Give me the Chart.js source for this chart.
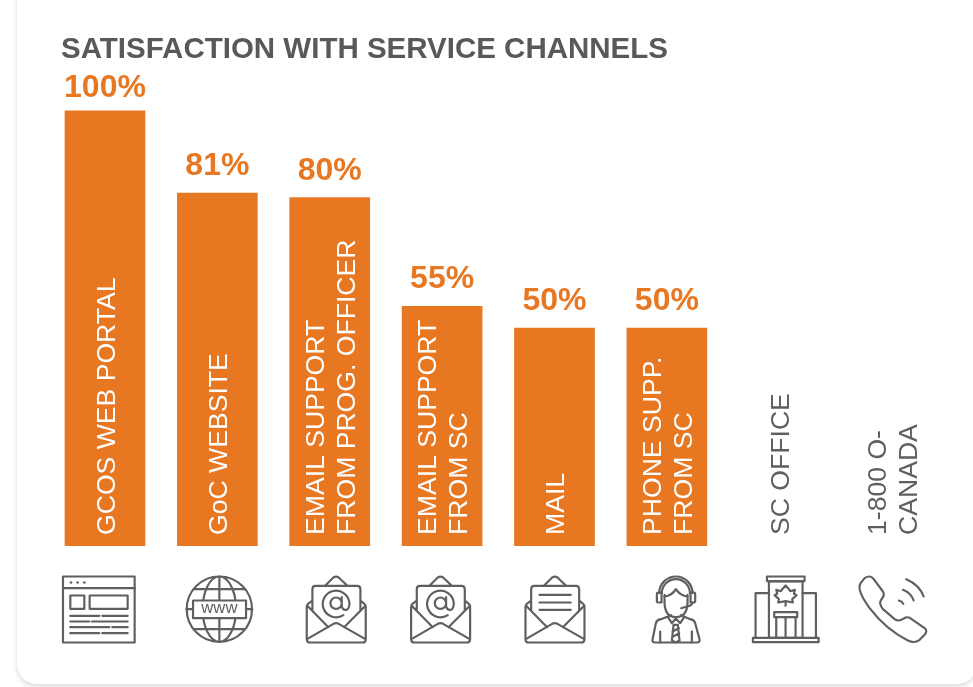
<!DOCTYPE html>
<html>
<head>
<meta charset="utf-8">
<title>Satisfaction with service channels</title>
<script src="https://cdn.jsdelivr.net/npm/chart.js@4"></script>
<style>
    html, body { margin: 0; height: 100%; background: #fff; overflow: hidden; }
    #card {
        position: absolute; left: 17px; top: -30px; width: 960px; height: 714px;
        background: #fff; border-radius: 20px;
        box-shadow: 0 3px 4px rgba(0, 0, 0, 0.12), -2px 0 5px rgba(0, 0, 0, 0.025);
    }
    canvas { position: absolute; left: 0; top: 0; }
</style>
</head>
<body>
<div id="card"></div>
<div style="position:absolute;left:0;top:0;width:973px;height:687px"><canvas id="myChart"></canvas></div>
<script>
const chartTitle = "SATISFACTION WITH SERVICE CHANNELS";
// each category is a list of lines for the rotated label
const categories = [
    ["GCOS WEB PORTAL"],
    ["GoC WEBSITE"],
    ["EMAIL SUPPORT", "FROM PROG. OFFICER"],
    ["EMAIL SUPPORT", "FROM SC"],
    ["MAIL"],
    ["PHONE SUPP.", "FROM SC"],
    ["SC OFFICE"],
    ["1-800 O-", "CANADA"],
];
const satisfaction = [100, 81, 80, 55, 50, 50, null, null];

const ORANGE = "#e87722";
const GREY = "#5f5f5f";
const FONT = '"Liberation Sans", Arial, sans-serif';

// icons are traced in 3x units, origin at the icon's top-left corner
function envelope(ctx) {
    const p = new Path2D("M55 28 L80 3 Q88 -2 96 3 L122 28");
    p.addPath(new Path2D("M17 102 L17 38 Q17 28 27 28 L151 28 Q161 28 161 38 L161 102"));
    p.addPath(new Path2D("M17 72 L4 82 Q0 85 0 92 L0 188 Q0 198 10 198 L167 198 Q177 198 177 188 L177 92 Q177 85 173 82 L161 72"));
    p.addPath(new Path2D("M1 87 L65 152 M177 87 L112 152"));
    p.addPath(new Path2D("M1 188 L80 142 Q88 138 96 142 L176 188"));
    ctx.stroke(p);
}
function atSign(ctx) {
    ctx.stroke(new Path2D("M105 62 L105 90 Q108 102 120 100 Q128 95 128 80 A40 40 0 1 0 110 116 M105 80 A17 17 0 1 1 71 80 A17 17 0 1 1 105 80"));
}
function drawBrowser(ctx) {
    ctx.strokeRect(0, 0, 215, 198);
    ctx.stroke(new Path2D("M0 35 H215 M22 118 H109 M118 118 H194 M22 135 H79 M87 135 H194 M22 152 H139 M148 152 H194 M22 170 H109 M118 170 H194"));
    ctx.strokeRect(22, 57, 42, 40);
    ctx.strokeRect(80, 57, 114, 40);
    [24, 44, 64].forEach(function (x) {
        ctx.beginPath();
        ctx.arc(x, 18, 4, 0, Math.PI * 2);
        ctx.fill();
    });
}
function drawGlobe(ctx) {
    ctx.beginPath();
    ctx.arc(99, 98, 98, 0, Math.PI * 2);
    ctx.moveTo(149, 98);
    ctx.ellipse(99, 98, 50, 98, 0, 0, Math.PI * 2);
    ctx.stroke();
    ctx.stroke(new Path2D("M99 0 V196 M22 38 H176 M22 158 H176 M0 98 H198"));
    ctx.fillStyle = "#fff";
    ctx.fillRect(20, 72, 159, 53);
    ctx.strokeRect(20, 72, 159, 53);
    ctx.fillStyle = GREY;
    ctx.font = "50px " + FONT;
    ctx.textAlign = "center";
    ctx.textBaseline = "alphabetic";
    ctx.fillText("www", 99, 110);
}
function drawEmail(ctx) {
    envelope(ctx);
    atSign(ctx);
}
function drawLetter(ctx) {
    envelope(ctx);
    ctx.stroke(new Path2D("M42 55 H136 M42 78 H136 M42 100 H136"));
}
function drawAgent(ctx) {
    ctx.stroke(new Path2D("M38 55 L38 80 Q40 122 72 122 Q105 122 107 80 L107 55"));
    ctx.stroke(new Path2D("M38 60 Q60 58 72 38 Q85 58 107 60"));
    ctx.stroke(new Path2D("M22 50 A50 50 0 0 1 122 50 M30 50 A42 42 0 0 1 114 50"));
    ctx.stroke(new Path2D("M19 48 H29 V78 H19 Q15 78 15 74 V52 Q15 48 19 48 Z M116 48 H126 Q130 48 130 52 V74 Q130 78 126 78 H116 Z"));
    ctx.stroke(new Path2D("M122 78 Q120 88 105 90 L88 95"));
    ctx.stroke(new Path2D("M2 190 Q0 198 10 198 L135 198 Q145 198 143 188 L130 140 Q127 130 115 128 L87 116 M58 116 L27 128 Q15 130 12 140 L2 190"));
    ctx.stroke(new Path2D("M48 122 L60 140 L72 126 L85 140 L97 122 M65 145 L60 192 L72 198 L83 192 L78 145 Z M62 165 L81 155 M61 182 L82 170 M25 165 V198 M120 165 V198"));
}
function drawOffice(ctx) {
    ctx.strokeRect(2, 184, 197, 13);
    ctx.strokeRect(50, 15, 101, 169);
    ctx.strokeRect(44, 0, 113, 14);
    ctx.stroke(new Path2D("M50 50 H10 V184 M151 50 H191 V184"));
    ctx.strokeRect(66, 107, 69, 15);
    ctx.stroke(new Path2D("M72 122 V184 M100 122 V184 M130 122 V184"));
    ctx.stroke(new Path2D("M100 88 V74 L78 78 L80 68 L67 56 L75 52 L72 40 L86 44 L90 38 L100 27 L110 38 L114 44 L128 40 L125 52 L133 56 L120 68 L122 78 L100 74"));
}
function drawPhone(ctx) {
    ctx.stroke(new Path2D("M15 5 Q30 -5 40 5 L70 45 Q76 55 68 65 L62 75 Q60 85 70 98 L105 128 Q115 135 125 130 L138 123 Q148 120 156 128 L195 155 Q205 162 195 175 L180 190 Q165 202 145 192 Q80 160 30 95 Q-10 40 3 20 Z"));
    ctx.stroke(new Path2D("M118 72 Q128 75 131 82 M130 40 Q155 50 162 72 M140 8 Q180 25 192 60"));
}

const icons = [drawBrowser, drawGlobe, drawEmail, drawEmail, drawLetter, drawAgent, drawOffice, drawPhone];
// where each icon's left edge sits relative to its category centre
const iconShift = [-42, -31, -23, -31, -29, -15, -27, -32];
const valueLift = [13, 18, 18, 18, 18, 18];

const annotate = {
    id: "annotate",
    afterDatasetsDraw(chart) {
        const ctx = chart.ctx;
        const x = chart.scales.x;
        const y = chart.scales.y;

        ctx.save();
        ctx.textBaseline = "alphabetic";
        ctx.textAlign = "left";
        ctx.fillStyle = "#595959";
        ctx.font = "bold 29.5px " + FONT;
        ctx.fillText(chartTitle, 61, 58);

        categories.forEach(function (lines, i) {
            const cx = x.getPixelForValue(i);
            const value = satisfaction[i];
            if (value !== null) {
                ctx.textAlign = "center";
                ctx.fillStyle = ORANGE;
                ctx.font = "bold 32px " + FONT;
                ctx.fillText(value + "%", cx, y.getPixelForValue(value) - valueLift[i]);
            }

            // rotated labels read bottom to top and start just above the base
            ctx.save();
            ctx.translate(cx, y.getPixelForValue(0) - 11);
            ctx.rotate(-Math.PI / 2);
            ctx.textAlign = "left";
            ctx.textBaseline = "middle";
            ctx.fillStyle = value !== null ? "#fff" : GREY;
            ctx.font = "26.6px " + FONT;
            const gap = 31;
            lines.forEach(function (line, n) {
                ctx.fillText(line, 0, (n - (lines.length - 1) / 2) * gap + 2.5);
            });
            ctx.restore();

            ctx.save();
            ctx.translate(cx + iconShift[i], 576.5);
            ctx.scale(1 / 3, 1 / 3);
            ctx.strokeStyle = GREY;
            ctx.fillStyle = GREY;
            ctx.lineWidth = 6.5;
            ctx.lineJoin = "round";
            ctx.lineCap = "round";
            icons[i](ctx);
            ctx.restore();
        });
        ctx.restore();
    },
};

document.addEventListener("DOMContentLoaded", function () {
    const ctx = document.getElementById("myChart");

    new Chart(ctx, {
        type: "bar",
        data: {
            labels: categories,
            datasets: [
                {
                    label: "Satisfaction (%)",
                    data: satisfaction,
                    backgroundColor: ORANGE,
                    barThickness: 80,
                },
            ],
        },
        options: {
            responsive: true,
            maintainAspectRatio: false,
            animation: false,
            layout: { padding: { left: 48.8, right: 25.2, top: 110.4, bottom: 141 } },
            plugins: {
                legend: { display: false },
                title: { display: false },
                tooltip: { enabled: false },
            },
            scales: {
                x: { display: false },
                y: { display: false, min: 0, max: 100 },
            },
        },
        plugins: [annotate],
    });
});
</script>
</body>
</html>
